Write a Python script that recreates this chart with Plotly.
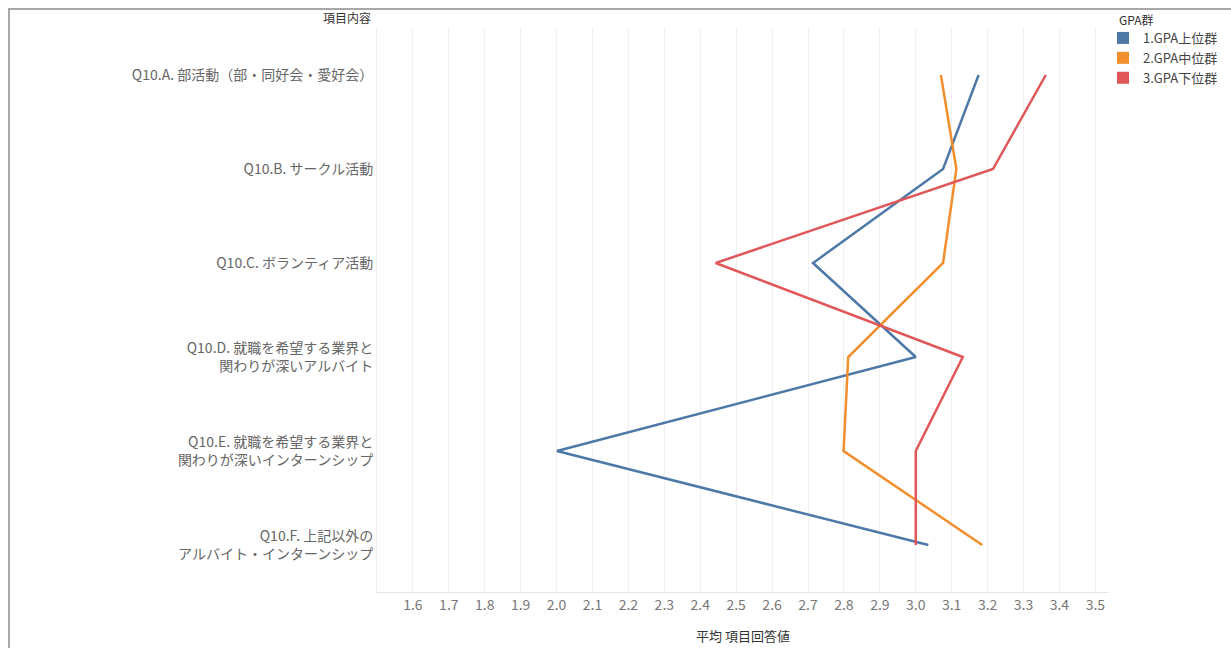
import plotly.graph_objects as go

# Survey items (y categories), shown top to bottom
items = [
    "Q10.A. 部活動（部・同好会・愛好会）",
    "Q10.B. サークル活動",
    "Q10.C. ボランティア活動",
    "Q10.D. 就職を希望する業界と<br>関わりが深いアルバイト",
    "Q10.E. 就職を希望する業界と<br>関わりが深いインターンシップ",
    "Q10.F. 上記以外の<br>アルバイト・インターンシップ",
]
item_keys = ["A", "B", "C", "D", "E", "F"]

# Mean answer value per GPA group
group_names = ["1.GPA上位群", "2.GPA中位群", "3.GPA下位群"]
gpa_top = [3.175, 3.076, 2.714, 3.000, 2.001, 3.035]
gpa_mid = [3.070, 3.113, 3.076, 2.812, 2.799, 3.185]
gpa_low = [3.362, 3.215, 2.443, 3.131, 3.000, 3.000]

x_ticks = [1.6, 1.7, 1.8, 1.9, 2.0, 2.1, 2.2, 2.3, 2.4, 2.5,
           2.6, 2.7, 2.8, 2.9, 3.0, 3.1, 3.2, 3.3, 3.4, 3.5]

colors = ["#4e79a7", "#f28e2b", "#e15759"]
series = [gpa_top, gpa_mid, gpa_low]

FONT = "Noto Sans CJK JP"

fig = go.Figure()
for name, vals, col in zip(group_names, series, colors):
    fig.add_trace(go.Scatter(
        x=vals, y=item_keys, mode="lines", name=name,
        line=dict(color=col, width=2.5), showlegend=False,
        hoverinfo="x+y",
    ))
# square swatches for the legend
for name, col in zip(group_names, colors):
    fig.add_trace(go.Scatter(
        x=[None], y=[None], mode="markers", name=name,
        marker=dict(symbol="square", size=11, color=col),
        showlegend=True,
    ))

W, H = 1231, 648
ml, mr, mt, mb = 377, 122, 28, 56
pw, ph = W - ml - mr, H - mt - mb


def px_x(p):
    return (p - ml) / pw


def px_y(p):
    return (H - mb - p) / ph


fig.update_layout(
    width=W, height=H,
    margin=dict(l=ml, r=mr, t=mt, b=mb, pad=0, autoexpand=False),
    paper_bgcolor="white", plot_bgcolor="white",
    font=dict(family=FONT, color="#555"),
    xaxis=dict(
        range=[1.5, 3.538], tickmode="array", tickvals=x_ticks,
        ticktext=[f"{v:.1f}" for v in x_ticks],
        showgrid=True, gridcolor="#f0f0f0", gridwidth=1,
        zeroline=False, showline=True, linecolor="#e6e6e6", linewidth=1,
        ticks="", tickfont=dict(size=14, color="#777", family=FONT),
        title=dict(text="平均 項目回答値", font=dict(size=13, color="#333", family=FONT),
                   standoff=19),
    ),
    yaxis=dict(
        type="category", categoryorder="array", categoryarray=item_keys,
        range=[5.5, -0.5], autorange=False,
        tickmode="array", tickvals=item_keys, ticktext=items,
        showgrid=False, zeroline=False, showline=True,
        linecolor="#ececec", linewidth=1, ticks="",
        tickfont=dict(size=14, color="#666", family=FONT),
    ),
    legend=dict(
        font=dict(size=13, color="#444", family=FONT),
        x=px_x(1103), y=px_y(23), xanchor="left", yanchor="top",
        bgcolor="rgba(0,0,0,0)", tracegroupgap=0, itemsizing="constant",
        itemwidth=30,
    ),
    annotations=[
        dict(text="項目内容", xref="paper", yref="paper",
             x=px_x(373), y=px_y(17), xanchor="right", yanchor="middle",
             showarrow=False, font=dict(size=12, color="#333", family=FONT)),
        dict(text="GPA群", xref="paper", yref="paper",
             x=px_x(1117), y=px_y(20), xanchor="left", yanchor="middle",
             showarrow=False, font=dict(size=12, color="#333", family=FONT)),
    ],
    shapes=[
        dict(type="line", xref="paper", yref="paper",
             x0=px_x(8), x1=px_x(1240), y0=px_y(9), y1=px_y(9),
             line=dict(color="#a8a8a8", width=2)),
        dict(type="line", xref="paper", yref="paper",
             x0=px_x(9), x1=px_x(9), y0=px_y(8), y1=px_y(660),
             line=dict(color="#a8a8a8", width=2)),
    ],
)

fig.write_html("out.html")
